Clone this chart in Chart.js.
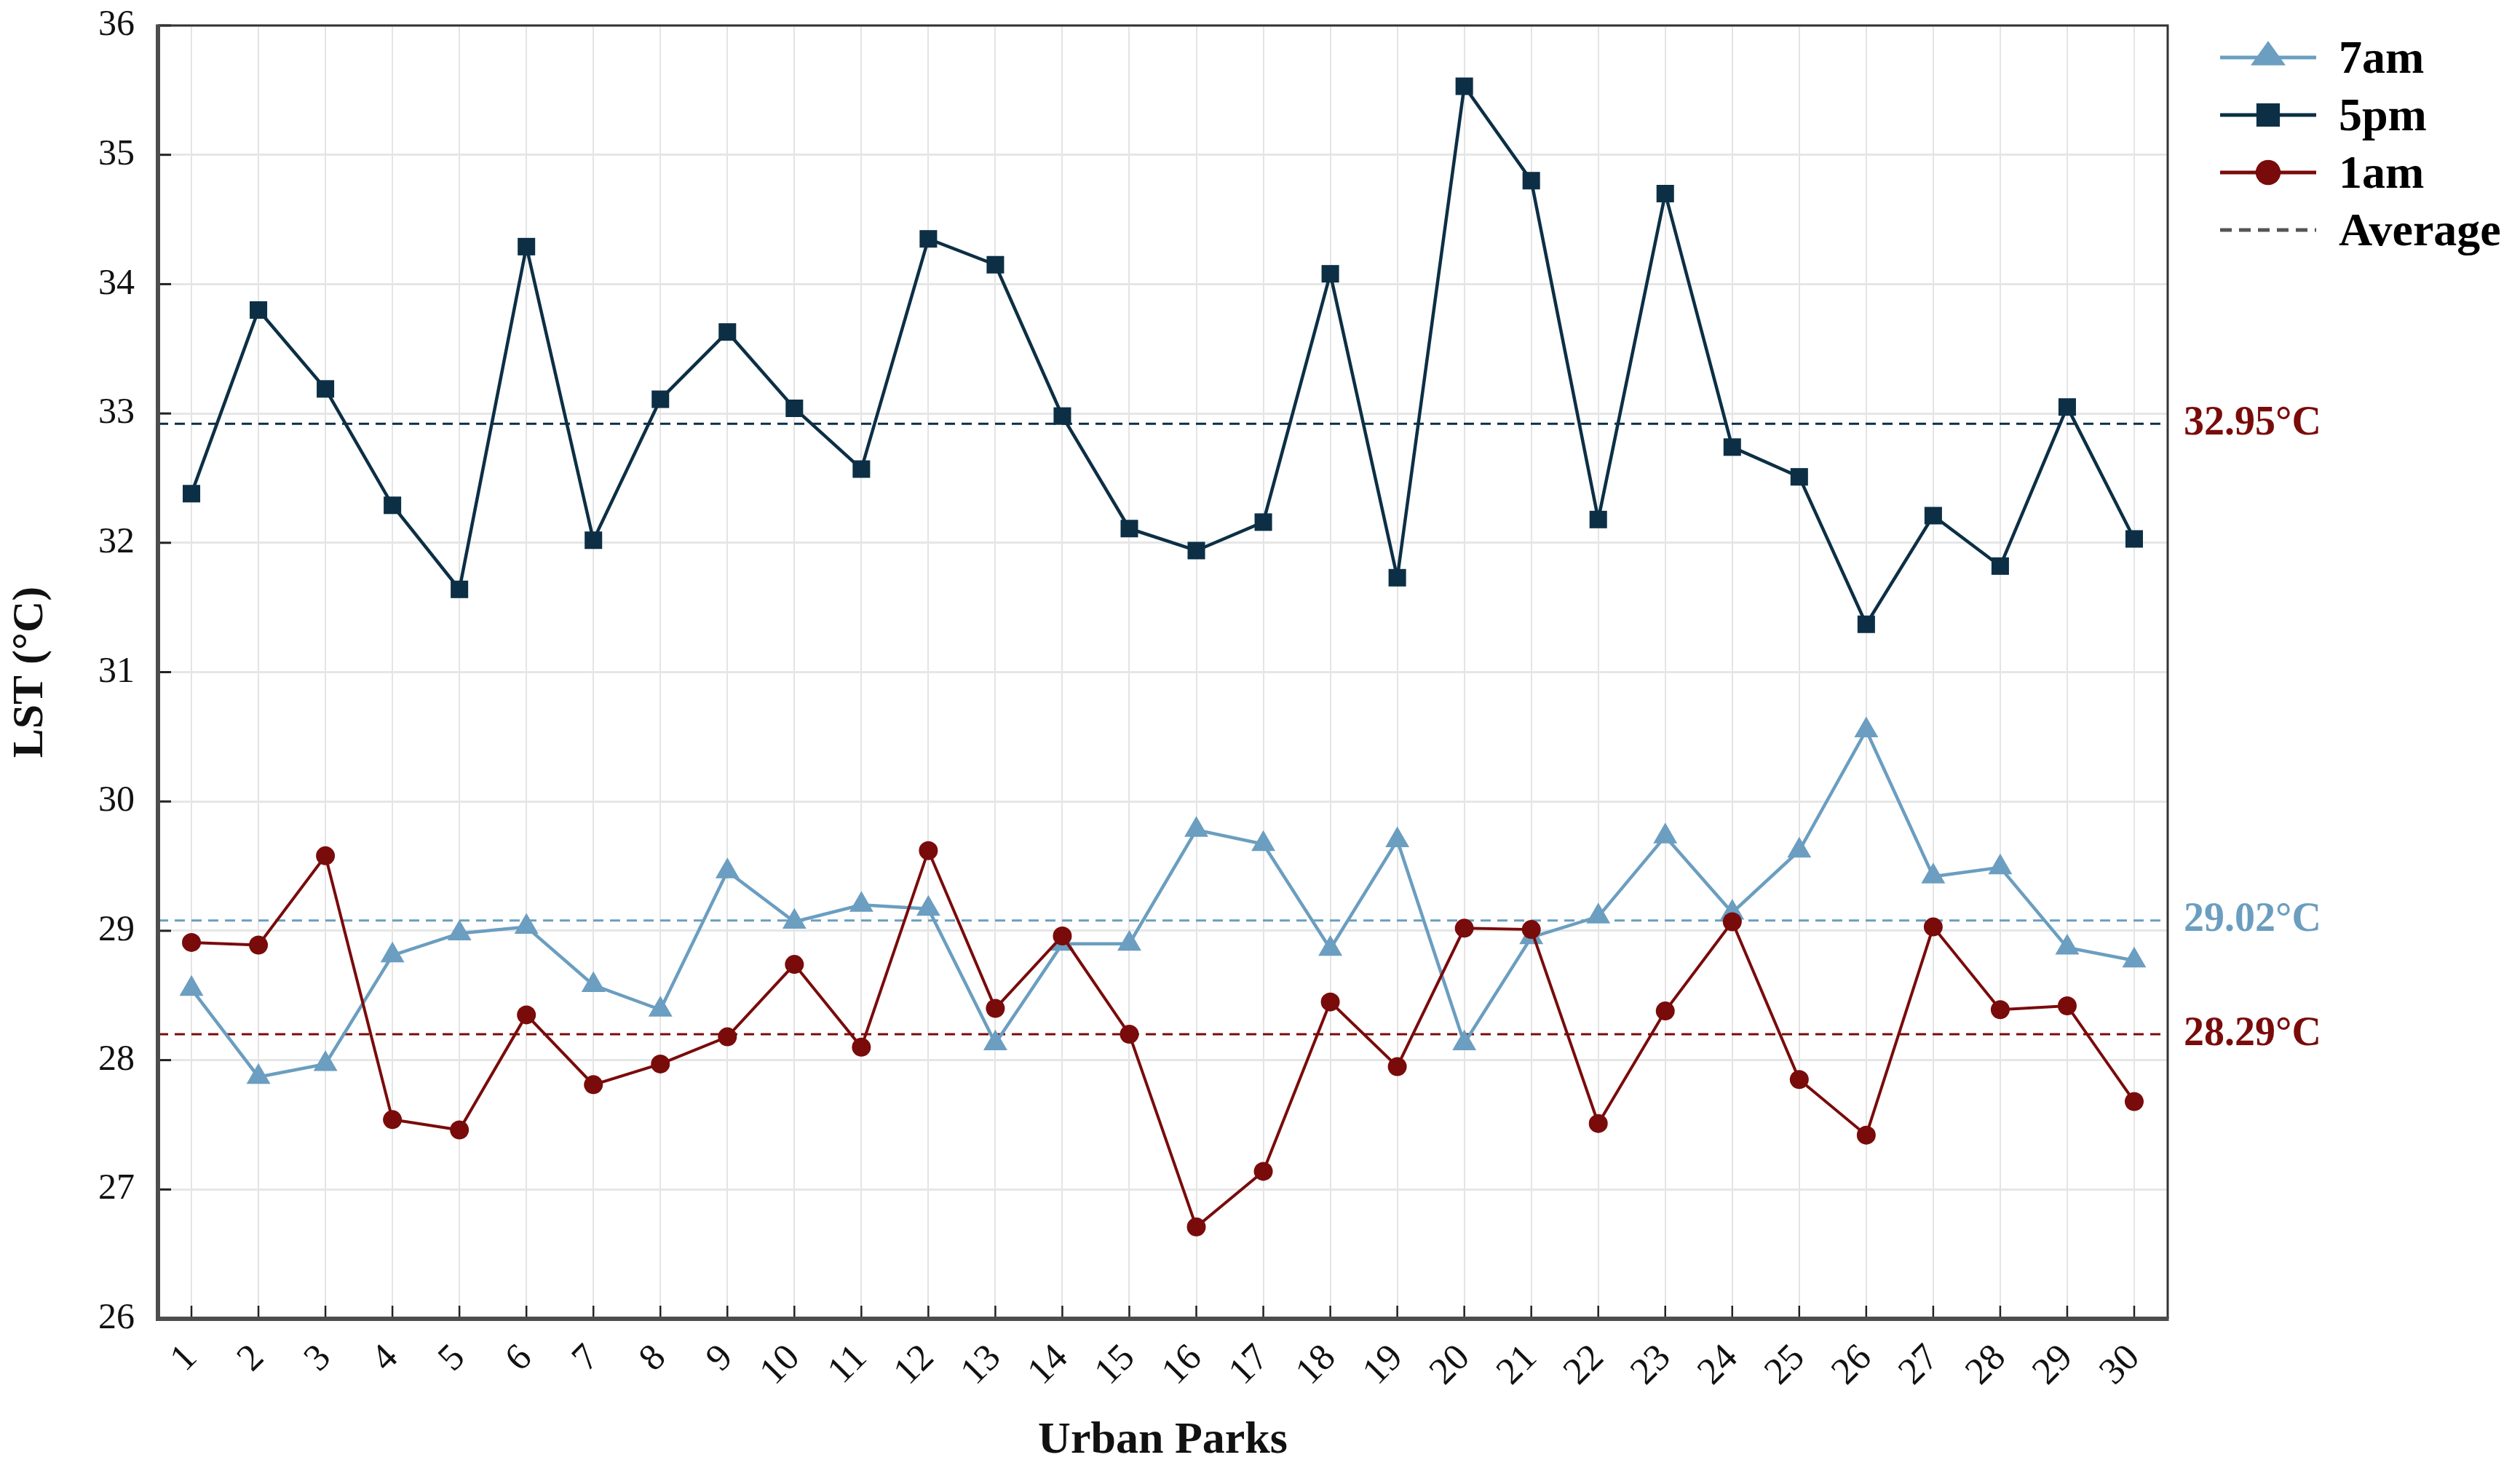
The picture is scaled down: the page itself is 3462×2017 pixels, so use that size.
<!DOCTYPE html>
<html>
<head>
<meta charset="utf-8">
<script src="https://cdn.jsdelivr.net/npm/chart.js@4.4.0/dist/chart.umd.min.js"></script>
<style>
  html, body { margin: 0; padding: 0; background: #fff; overflow: hidden; }
  canvas { display: block; }
</style>
</head>
<body>
<canvas id="chart" width="3462" height="2017"></canvas>
<script>
// park ids on the x axis
const parks = ['1','2','3','4','5','6','7','8','9','10','11','12','13','14','15',
               '16','17','18','19','20','21','22','23','24','25','26','27','28','29','30'];

// LST per park (°C)
const lst7am = [28.55, 27.87, 27.97, 28.81, 28.98, 29.03, 28.58, 28.39, 29.46, 29.07,
                29.20, 29.17, 28.13, 28.90, 28.90, 29.78, 29.67, 28.86, 29.70, 28.13,
                28.95, 29.11, 29.73, 29.14, 29.62, 30.55, 29.42, 29.49, 28.87, 28.77];
const lst5pm = [32.38, 33.80, 33.19, 32.29, 31.64, 34.29, 32.02, 33.11, 33.63, 33.04,
                32.57, 34.35, 34.15, 32.98, 32.11, 31.94, 32.16, 34.08, 31.73, 35.53,
                34.80, 32.18, 34.70, 32.74, 32.51, 31.37, 32.21, 31.82, 33.05, 32.03];
const lst1am = [28.91, 28.89, 29.58, 27.54, 27.46, 28.35, 27.81, 27.97, 28.18, 28.74,
                28.10, 29.62, 28.40, 28.96, 28.20, 26.71, 27.14, 28.45, 27.95, 29.02,
                29.01, 27.51, 28.38, 29.07, 27.85, 27.42, 29.03, 28.39, 28.42, 27.68];

// average lines: where they sit in the figure, and the text printed beside them
const avgSeries = ['5pm', '7am', '1am'];
const avgLineAt = [32.92, 29.08, 28.20];
const avgLabels = ['32.95°C', '29.02°C', '28.29°C'];

const yMin = 26, yMax = 36, yStep = 1;

const C7 = '#6b9ec0';
const C5 = '#0c2f45';
const C1 = '#7a0b0b';
const serif = '"Liberation Serif", "Times New Roman", serif';

const lineColor = { '7am': C7, '5pm': C5, '1am': C1 };
const labelColor = { '7am': C7, '5pm': C1, '1am': C1 };

function marker(ctx, style, x, y, s, color) {
  ctx.save();
  ctx.fillStyle = color;
  ctx.beginPath();
  if (style === 'triangle') {
    ctx.moveTo(x, y - s * 0.95);
    ctx.lineTo(x + s, y + s * 0.45);
    ctx.lineTo(x - s, y + s * 0.45);
    ctx.closePath();
  } else if (style === 'rect') {
    ctx.rect(x - s * 0.7, y - s * 0.7, s * 1.4, s * 1.4);
  } else {
    ctx.arc(x, y, s * 0.75, 0, Math.PI * 2);
  }
  ctx.fill();
  ctx.restore();
}

const decor = {
  id: 'decor',
  beforeDatasetsDraw(chart) {
    const { ctx, chartArea: a, scales: { y } } = chart;
    ctx.save();
    ctx.lineWidth = 3;
    ctx.setLineDash([14, 9]);
    avgLineAt.forEach((v, i) => {
      const py = y.getPixelForValue(v);
      ctx.strokeStyle = lineColor[avgSeries[i]];
      ctx.beginPath();
      ctx.moveTo(a.left, py);
      ctx.lineTo(a.right, py);
      ctx.stroke();
    });
    ctx.restore();
  },
  afterDraw(chart) {
    const { ctx, chartArea: a, scales: { x, y } } = chart;
    ctx.save();

    // inward tick marks
    ctx.strokeStyle = '#222';
    ctx.lineWidth = 3;
    for (let v = yMin; v <= yMax; v += yStep) {
      const py = y.getPixelForValue(v);
      ctx.beginPath();
      ctx.moveTo(a.left, py);
      ctx.lineTo(a.left + 18, py);
      ctx.stroke();
    }
    ctx.lineWidth = 2.5;
    parks.forEach((p, i) => {
      const px = x.getPixelForValue(i);
      ctx.beginPath();
      ctx.moveTo(px, a.bottom);
      ctx.lineTo(px, a.bottom - 18);
      ctx.stroke();
    });

    // frame: heavy left/bottom, thin top/right
    ctx.strokeStyle = '#333';
    ctx.lineWidth = 3;
    ctx.beginPath();
    ctx.moveTo(a.left, a.top);
    ctx.lineTo(a.right, a.top);
    ctx.lineTo(a.right, a.bottom);
    ctx.stroke();
    ctx.strokeStyle = '#4d4d4d';
    ctx.lineWidth = 6;
    ctx.beginPath();
    ctx.moveTo(a.left, a.top - 1.5);
    ctx.lineTo(a.left, a.bottom);
    ctx.lineTo(a.right + 1.5, a.bottom);
    ctx.stroke();

    // average values at the right
    ctx.font = 'bold 56px ' + serif;
    ctx.textAlign = 'left';
    ctx.textBaseline = 'middle';
    avgLineAt.forEach((v, i) => {
      ctx.fillStyle = labelColor[avgSeries[i]];
      ctx.fillText(avgLabels[i], a.right + 22, y.getPixelForValue(v));
    });

    // legend
    const rows = [
      { text: '7am', color: C7, style: 'triangle' },
      { text: '5pm', color: C5, style: 'rect' },
      { text: '1am', color: C1, style: 'circle' },
      { text: 'Average', color: '#555', style: null }
    ];
    const lx0 = a.right + 72, lx1 = a.right + 204, lxm = (lx0 + lx1) / 2;
    ctx.font = 'bold 64px ' + serif;
    rows.forEach((r, i) => {
      const ly = 79 + i * 79;
      ctx.strokeStyle = r.color;
      ctx.lineWidth = 5;
      ctx.setLineDash(r.style ? [] : [16, 10]);
      ctx.beginPath();
      ctx.moveTo(lx0, ly);
      ctx.lineTo(lx1, ly);
      ctx.stroke();
      ctx.setLineDash([]);
      if (r.style) marker(ctx, r.style, lxm, ly, r.style === 'triangle' ? 24 : 23, r.color);
      ctx.fillStyle = '#000';
      ctx.fillText(r.text, a.right + 235, ly + 4);
    });
    ctx.restore();
  }
};

new Chart(document.getElementById('chart'), {
  type: 'line',
  data: {
    labels: parks,
    datasets: [
      { label: '1am', data: lst1am, borderColor: C1, backgroundColor: C1, borderWidth: 4,
        pointStyle: 'circle', pointRadius: 13, pointBorderWidth: 0, tension: 0 },
      { label: '7am', data: lst7am, borderColor: C7, backgroundColor: C7, borderWidth: 4.5,
        pointStyle: 'triangle', pointRadius: 19, pointBorderWidth: 0, tension: 0 },
      { label: '5pm', data: lst5pm, borderColor: C5, backgroundColor: C5, borderWidth: 4.5,
        pointStyle: 'rect', pointRadius: 17, pointBorderWidth: 0, tension: 0 }
    ]
  },
  options: {
    responsive: false,
    animation: false,
    devicePixelRatio: 1,
    layout: { padding: { top: 35, right: 484, bottom: 0, left: 0 } },
    plugins: { legend: { display: false }, tooltip: { enabled: false } },
    scales: {
      x: {
        type: 'category',
        offset: true,
        grid: { color: '#e4e4e4', lineWidth: 2, drawTicks: false },
        border: { display: false },
        ticks: {
          font: { family: serif, size: 52 },
          color: '#111',
          minRotation: 45,
          maxRotation: 45,
          padding: 24
        },
        title: {
          display: true,
          text: 'Urban Parks',
          color: '#111',
          font: { family: serif, size: 62, weight: 'bold' },
          padding: { top: 0, bottom: 0 }
        },
        afterFit(s) { s.height = 205; }
      },
      y: {
        min: yMin,
        max: yMax,
        grid: { color: '#e6e6e6', lineWidth: 3, drawTicks: false },
        border: { display: false },
        ticks: {
          stepSize: yStep,
          font: { family: serif, size: 50 },
          color: '#111',
          padding: 32
        },
        title: {
          display: true,
          text: 'LST (°C)',
          color: '#111',
          font: { family: serif, size: 60, weight: 'bold' },
          padding: { top: 6, bottom: 0 }
        },
        afterFit(s) {
          s.width = 217;
          s.paddingTop = 0;
          s.paddingBottom = 0;
        }
      }
    }
  },
  plugins: [decor]
});
</script>
</body>
</html>
